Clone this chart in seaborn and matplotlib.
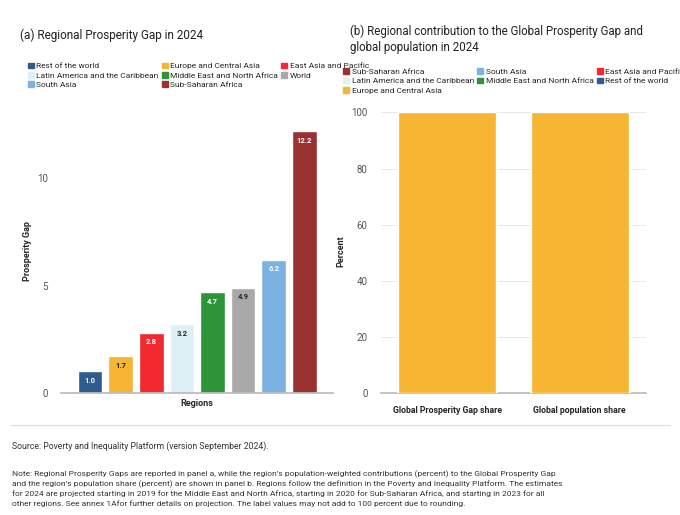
import seaborn as sns
import matplotlib.pyplot as plt
import numpy as np
import pandas as pd
from matplotlib.patches import Patch
sns.set(style='white', font='Roboto')

regions = ['Rest of the world', 'Europe and Central Asia', 'East Asia and Pacific',
           'Latin America and the Caribbean', 'Middle East and North Africa', 'World',
           'South Asia', 'Sub-Saharan Africa']
gap = [1.0, 1.7, 2.8, 3.2, 4.7, 4.9, 6.2, 12.2]
colors = ['#2f5b8e', '#f6b533', '#f2292e', '#dcf0f5', '#2e9438', '#a9a9a9', '#7cb2e1', '#9a3232']
pal = dict(zip(regions, colors))

stack_regions = ['Sub-Saharan Africa', 'South Asia', 'East Asia and Pacific',
                 'Latin America and the Caribbean', 'Middle East and North Africa',
                 'Rest of the world', 'Europe and Central Asia']
gap_share = [38.9, 30.5, 15.2, 5.4, 5.2, 2.5, 2.3]
pop_share = [15.7, 24.2, 26.4, 8.2, 5.5, 13.9, 6.1]
bars_b = ['Global Prosperity Gap share', 'Global population share']
dark_text = ['Latin America and the Caribbean', 'Europe and Central Asia', 'World']


def row_major(names, ncol=3):
    # matplotlib fills legend columns first, reorder so rows read left to right
    rows = [names[i:i + ncol] for i in range(0, len(names), ncol)]
    return [r[c] for c in range(ncol) for r in rows if c < len(r)]


leg_kw = dict(ncol=3, frameon=False, loc='lower left', fontsize=6, handlelength=0.7,
              handleheight=0.7, columnspacing=0.4, handletextpad=0.3, labelspacing=0.3)

fig = plt.figure(figsize=(6.8, 5.15), dpi=100)
ax1 = fig.add_axes([0.09, 0.237, 0.40, 0.55])
ax2 = fig.add_axes([0.56, 0.237, 0.39, 0.55])

# panel a
df = pd.DataFrame({'region': regions, 'gap': gap, 'x': 'Regions'})
sns.barplot(data=df, x='x', y='gap', hue='region', hue_order=regions, palette=pal,
            ax=ax1, width=0.9, gap=0.2, saturation=1, legend=False)
for cont, r in zip(ax1.containers, regions):
    ax1.bar_label(cont, fmt='%.1f', label_type='edge', padding=-9, fontsize=5.5, fontweight='bold',
                  color='#222222' if r in dark_text else 'white')
ax1.set_ylim(0, 13.2)
ax1.set_yticks([0, 5, 10])
ax1.set_xticks([])
ax1.set_xlabel('Regions', fontsize=6.5, fontweight='bold')
ax1.set_ylabel('Prosperity Gap', fontsize=6.5, fontweight='bold')
ax1.tick_params(labelsize=7, colors='#555555')
sns.despine(ax=ax1, left=True)
ax1.spines['bottom'].set_color('#bbbbbb')
ax1.legend(handles=[Patch(color=pal[r], label=r) for r in row_major(regions)],
           bbox_to_anchor=(-0.15, 1.05), **leg_kw)
fig.text(0.03, 0.925, '(a) Regional Prosperity Gap in 2024', fontsize=8.5, color='#222222')

# panel b
bottom = np.zeros(2)
for r, g, p in zip(stack_regions, gap_share, pop_share):
    vals = np.array([g, p])
    sns.barplot(x=bars_b, y=bottom + vals, color=pal[r], ax=ax2, width=0.74,
                saturation=1, edgecolor='white', linewidth=1)
    for i, v in enumerate(vals):
        if v > 4:
            ax2.text(i, bottom[i] + v / 2, f'{v:.1f}', ha='center', va='center', fontsize=5.5,
                     fontweight='bold', color='#222222' if r in dark_text else 'white')
    bottom += vals
# draw taller stacks first so shorter ones sit on top
for k, cont in enumerate(ax2.containers):
    for b in cont:
        b.set_zorder(2 + k)
ax2.set_ylim(0, 101)
ax2.set_yticks([0, 20, 40, 60, 80, 100])
ax2.set_ylabel('Percent', fontsize=6.5, fontweight='bold')
ax2.tick_params(axis='y', labelsize=7, colors='#555555')
ax2.tick_params(axis='x', labelsize=6.3)
for lab in ax2.get_xticklabels():
    lab.set_fontweight('bold')
ax2.yaxis.grid(True, color='#e5e5e5', lw=0.6, zorder=0)
ax2.set_axisbelow(True)
sns.despine(ax=ax2, left=True)
ax2.spines['bottom'].set_color('#bbbbbb')
ax2.legend(handles=[Patch(color=pal[r], label=r) for r in row_major(stack_regions)],
           bbox_to_anchor=(-0.17, 1.03), **leg_kw)
fig.text(0.515, 0.9, '(b) Regional contribution to the Global Prosperity Gap and\nglobal population in 2024',
         fontsize=8.3, color='#222222', linespacing=1.3)

fig.add_artist(plt.Line2D([0.015, 0.985], [0.175, 0.175], color='#dddddd', lw=0.8))
fig.text(0.017, 0.128, 'Source: Poverty and Inequality Platform (version September 2024).', fontsize=6.2,
         color='#333333')
fig.text(0.017, 0.018,
         'Note: Regional Prosperity Gaps are reported in panel a, while the region\u2019s population-weighted contributions (percent) to the Global Prosperity Gap\n'
         'and the region\u2019s population share (percent) are shown in panel b. Regions follow the definition in the Poverty and Inequality Platform. The estimates\n'
         'for 2024 are projected starting in 2019 for the Middle East and North Africa, starting in 2020 for Sub-Saharan Africa, and starting in 2023 for all\n'
         'other regions. See annex 1Afor further details on projection. The label values may not add to 100 percent due to rounding.',
         fontsize=6, color='#333333', linespacing=1.45)
fig.savefig('out.png', dpi=100)
